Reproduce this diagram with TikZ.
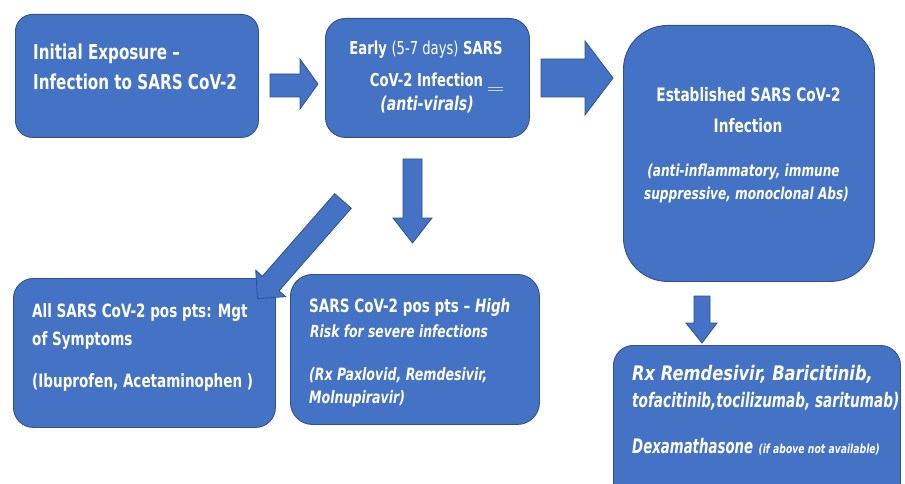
\documentclass[tikz,border=0pt]{standalone}
\usepackage{fontspec}
\setmainfont{DejaVu Sans}[FakeStretch=0.74]
\definecolor{boxblue}{HTML}{4472C4}
\definecolor{edgeblue}{HTML}{2F528F}
\newcommand\myfs[1]{\fontsize{#1}{#1}\selectfont}
\tikzset{
  flowbox/.style={draw=edgeblue, fill=boxblue, line width=0.9pt, anchor=north west, inner sep=0pt},
  blockarrow/.style={draw=edgeblue, fill=boxblue, line width=0.8pt, line join=miter},
  txt/.style={text=white, inner sep=0pt, font=\bfseries},
}
\begin{document}
\begin{tikzpicture}[x=1pt,y=-1pt]
\useasboundingbox (0,0) rectangle (905,484);
\clip (0,0) rectangle (905,484);
\fill[white] (0,0) rectangle (905,484);

% boxes
\node[flowbox, rounded corners=17pt, minimum width=243pt, minimum height=123pt] (b1) at (15,14) {};
\node[flowbox, rounded corners=20pt, minimum width=204pt, minimum height=119pt] (b2) at (325,18) {};
\node[flowbox, rounded corners=44pt, minimum width=251pt, minimum height=256pt] (b3) at (623,25) {};
\node[flowbox, rounded corners=20pt, minimum width=262pt, minimum height=149pt] (b4) at (13,278) {};
\node[flowbox, rounded corners=22pt, minimum width=249pt, minimum height=150pt] (b5) at (290,274) {};
\node[flowbox, rounded corners=20pt, minimum width=287pt, minimum height=170pt] (b6) at (613,345) {};

% block arrows
\draw[blockarrow] (270,74) -- (300,74) -- (300,59) -- (318,84) -- (300,109) -- (300,97) -- (270,97) -- cycle;
\draw[blockarrow] (541,59) -- (585,59) -- (585,41) -- (613,78) -- (585,115) -- (585,97) -- (541,97) -- cycle;
\draw[blockarrow] (403,159) -- (422,159) -- (422,218) -- (432,218) -- (412.5,243) -- (393,218) -- (403,218) -- cycle;
\draw[blockarrow] (694,296) -- (710,296) -- (710,323) -- (717,323) -- (702,343) -- (686,323) -- (694,323) -- cycle;
\draw[blockarrow] (334.7,193.7) -- (351.3,208.3) -- (279,290.8) -- (285.7,296.7) -- (257.5,298.5) -- (255.7,270.3) -- (262.4,276.2) -- cycle;

% box 1 text
\node[txt, anchor=base west, font=\bfseries\myfs{20.5}] (t1a) at (33,60) {Initial Exposure –};
\node[txt, anchor=base west, font=\bfseries\myfs{20.5}] (t1b) at (33,90) {Infection to SARS CoV-2};

% box 2 text
\node[txt, anchor=base, font=\bfseries\myfs{17.8}] (t2a) at (426,55) {Early {\mdseries (5-7 days)} SARS};
\node[txt, anchor=base, font=\bfseries\myfs{17.8}] (t2b) at (426.5,87) {CoV-2 Infection};
\node[txt, anchor=base, font=\bfseries\itshape\myfs{19}] (t2c) at (427,111) {(anti-virals)};
\draw[white!70!boxblue, line width=0.6pt] (488,87.5) -- (503,87.5) (488,90) -- (503,90);

% box 3 text
\node[txt, anchor=base, font=\bfseries\myfs{18.5}] (t3a) at (748.5,102) {Established SARS CoV-2};
\node[txt, anchor=base, font=\bfseries\myfs{18.5}] (t3b) at (748,133) {Infection};
\node[txt, anchor=base, font=\bfseries\itshape\myfs{16.4}] (t3c) at (743.5,176) {(anti-inflammatory, immune};
\node[txt, anchor=base, font=\bfseries\itshape\myfs{16.4}] (t3d) at (746.5,200) {suppressive, monoclonal Abs)};

% box 4 text
\node[txt, anchor=base west, font=\bfseries\myfs{18.3}] (t4a) at (32,317) {All SARS CoV-2 pos pts: Mgt};
\node[txt, anchor=base west, font=\bfseries\myfs{18.3}] (t4b) at (32,345) {of Symptoms};
\node[txt, anchor=base west, font=\bfseries\myfs{18.3}] (t4c) at (32,387) {(Ibuprofen, Acetaminophen )};

% box 5 text
\node[txt, anchor=base west, font=\bfseries\myfs{18.3}] (t5a) at (309,312) {SARS CoV-2 pos pts – {\itshape High}};
\node[txt, anchor=base west, font=\bfseries\itshape\myfs{16.7}] (t5b) at (310,337) {Risk for severe infections};
\node[txt, anchor=base west, font=\bfseries\itshape\myfs{17}] (t5c) at (309,380) {(Rx Paxlovid, Remdesivir,};
\node[txt, anchor=base west, font=\bfseries\itshape\myfs{17}] (t5d) at (309,403) {Molnupiravir)};

% box 6 text
\node[txt, anchor=base west, font=\bfseries\itshape\myfs{20}] (t6a) at (632,380) {\scalebox{1.1}[1]{Rx Remdesivir, Baricitinib,}};
\node[txt, anchor=base west, font=\bfseries\itshape\myfs{20}] (t6b) at (632,407) {\scalebox{0.92}[1]{tofacitinib,tocilizumab, saritumab)}};
\node[txt, anchor=base west, font=\bfseries\itshape\myfs{20}] (t6c) at (632,453) {\scalebox{0.9}[1]{Dexamathasone}};
\node[txt, anchor=base west, font=\bfseries\itshape\myfs{12.5}] (t6d) at (t6c.base east) {\hspace{5pt}(if above not available)};
\end{tikzpicture}
\end{document}
